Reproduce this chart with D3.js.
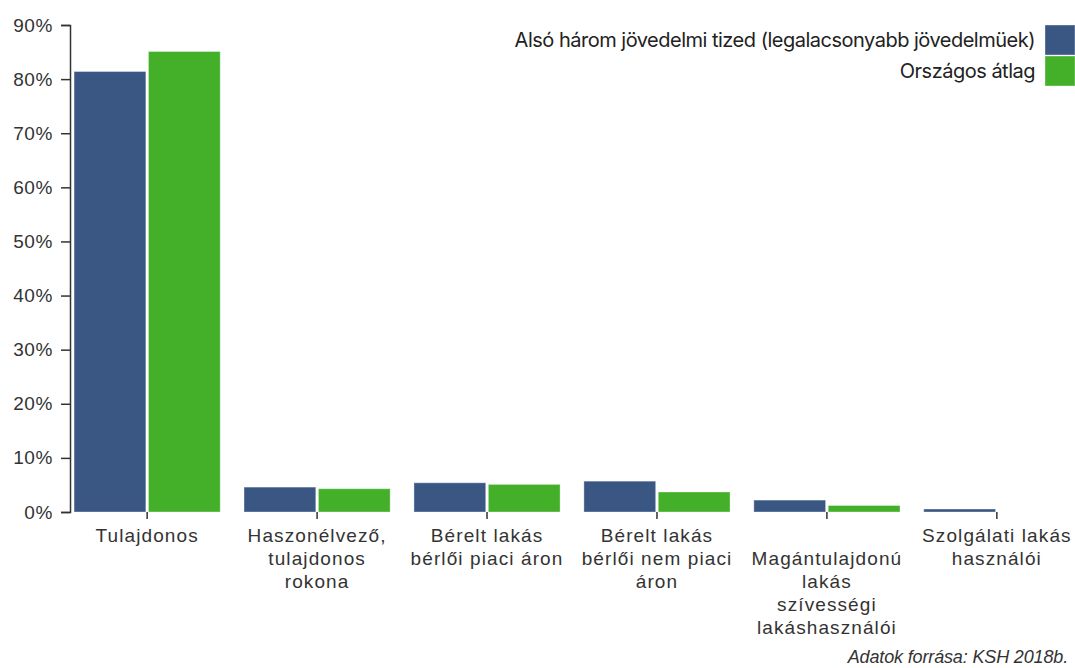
<!DOCTYPE html>
<html>
<head>
<meta charset="utf-8">
<script src="https://cdn.jsdelivr.net/npm/d3@7"></script>
<style>
  html, body { margin: 0; padding: 0; background: #fff; }
  svg { display: block; }
  .axis text { font-family: "Liberation Sans", Arial, sans-serif; font-size: 19px; fill: #333; }
  .axis.x text { letter-spacing: 1.1px; }
  .axis.y text { letter-spacing: 0.6px; }
  .axis path, .axis line { stroke: #333; stroke-width: 1.5; }
  .legend text { font-family: "Inter", "Liberation Sans", sans-serif; font-size: 20px; fill: #222; letter-spacing: -0.5px; }
  .source { font-family: "Liberation Sans", Arial, sans-serif; font-size: 18px; font-style: italic; fill: #333; letter-spacing: -0.15px; }
</style>
</head>
<body>
<svg id="chart" width="1075" height="668"></svg>
<script>
// Housing tenure by income group (share of households)
const categories = [
  "Tulajdonos",
  "Haszonélvező, tulajdonos rokona",
  "Bérelt lakás bérlői piaci áron",
  "Bérelt lakás bérlői nem piaci áron",
  "Magántulajdonú lakás szívességi lakáshasználói",
  "Szolgálati lakás használói"
];
// Line breaks of the category labels
const categoryLines = [
  ["Tulajdonos"],
  ["Haszonélvező,", "tulajdonos", "rokona"],
  ["Bérelt lakás", "bérlői piaci áron"],
  ["Bérelt lakás", "bérlői nem piaci", "áron"],
  ["", "Magántulajdonú", "lakás", "szívességi", "lakáshasználói"],
  ["Szolgálati lakás", "használói"]
];
const seriesNames = [
  "Alsó három jövedelmi tized (legalacsonyabb jövedelmüek)",
  "Országos átlag"
];
const lowIncome = [0.814, 0.046, 0.054, 0.057, 0.022, 0.0055];
const nationalAvg = [0.851, 0.043, 0.051, 0.037, 0.012, 0.0];
const yTicks = [0, 0.1, 0.2, 0.3, 0.4, 0.5, 0.6, 0.7, 0.8, 0.9];
const colors = ["#3a5784", "#44b02a"];
const sourceText = "Adatok forrása: KSH 2018b.";

const svg = d3.select("#chart");
const plotTop = 25, plotBottom = 512, plotLeft = 70, plotRight = 1074;

const y = d3.scaleLinear().domain([0, 0.9]).range([plotBottom, plotTop]);
const x0 = d3.scaleBand().domain(categories).range([plotLeft, plotRight])
  .paddingInner(0.14).paddingOuter(0.024);
const x1 = d3.scaleBand().domain(seriesNames).range([0, x0.bandwidth()]).paddingInner(0.035);
const color = d3.scaleOrdinal().domain(seriesNames).range(colors);

const values = [lowIncome, nationalAvg];
const rows = categories.map((c, i) => ({
  cat: c,
  vals: seriesNames.map((s, j) => ({ series: s, value: values[j][i] }))
}));

// Bars
const groups = svg.append("g").selectAll("g").data(rows).join("g")
  .attr("transform", d => `translate(${x0(d.cat)},0)`);
groups.selectAll("rect").data(d => d.vals).join("rect")
  .attr("x", d => x1(d.series))
  .attr("y", d => y(d.value))
  .attr("width", x1.bandwidth())
  .attr("height", d => y(0) - y(d.value))
  .attr("fill", d => color(d.series))
  .attr("stroke", "rgba(255,255,255,0.35)")
  .attr("stroke-width", 1);

// Y axis
svg.append("g").attr("class", "axis y")
  .attr("transform", `translate(${plotLeft},0)`)
  .call(d3.axisLeft(y).tickValues(yTicks).tickFormat(d3.format(".0%")).tickSize(9).tickPadding(8));

// X axis: ticks only, multi-line labels
const xAxis = svg.append("g").attr("class", "axis x")
  .attr("transform", `translate(0,${plotBottom})`)
  .call(d3.axisBottom(x0).tickSize(7).tickPadding(10));
xAxis.select(".domain").remove();
xAxis.selectAll(".tick text").each(function(d) {
  const t = d3.select(this);
  const lines = categoryLines[categories.indexOf(d)];
  t.text(null);
  lines.forEach((ln, k) => {
    t.append("tspan").attr("x", 0).attr("dy", k === 0 ? "0.71em" : "23px").text(ln || "\u00a0");
  });
});

// Legend
const legend = svg.append("g").attr("class", "legend");
seriesNames.forEach((s, i) => {
  const ly = 25 + i * 31;
  legend.append("rect").attr("x", 1045).attr("y", ly).attr("width", 30).attr("height", 30)
    .attr("fill", color(s)).attr("stroke", "rgba(255,255,255,0.35)");
  legend.append("text").attr("x", 1035).attr("y", ly + 15).attr("dy", "0.35em")
    .attr("text-anchor", "end").text(s);
});

// Source note
svg.append("text").attr("class", "source")
  .attr("x", 1068).attr("y", 663).attr("text-anchor", "end").text(sourceText);
</script>
</body>
</html>
